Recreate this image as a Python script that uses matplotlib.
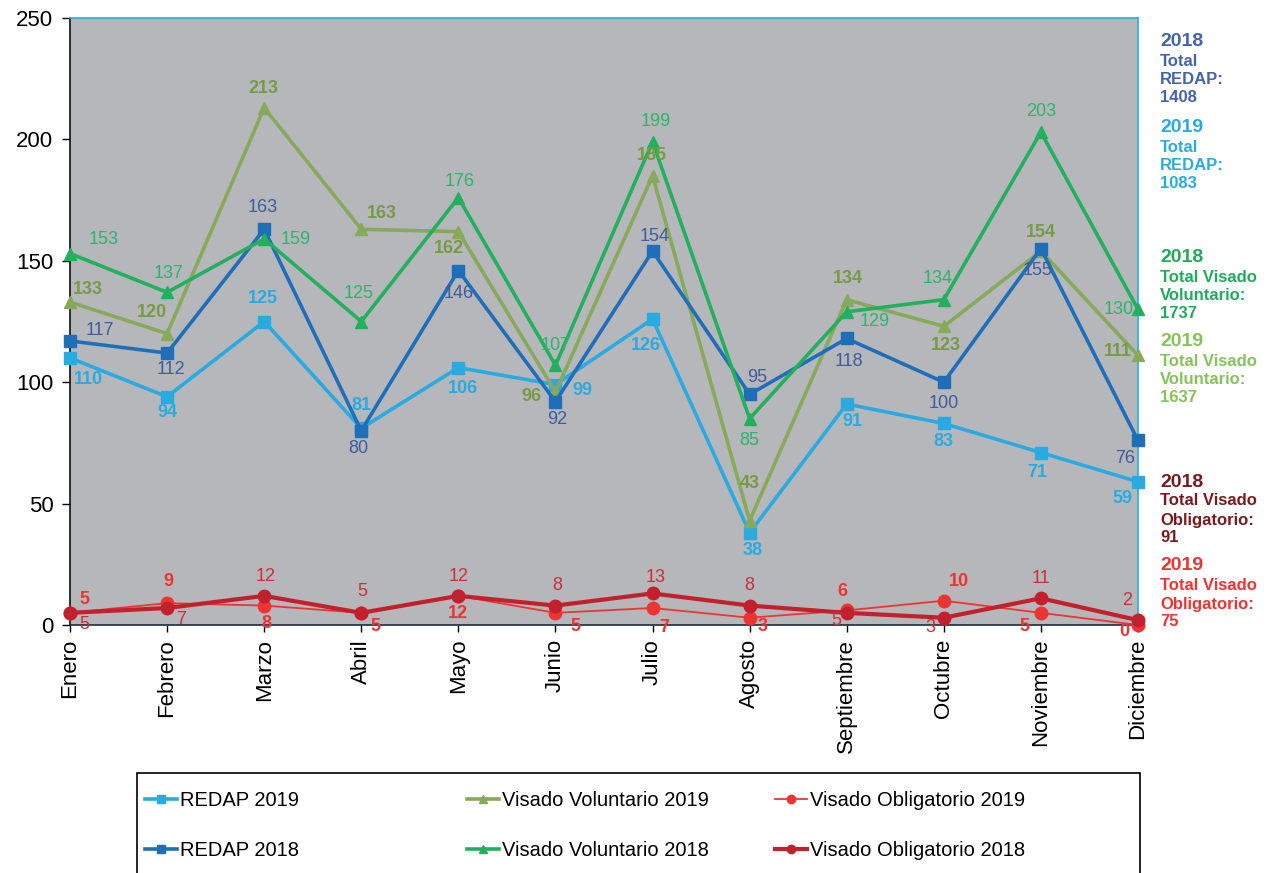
import matplotlib
matplotlib.use("Agg")
import matplotlib.pyplot as plt
from matplotlib.lines import Line2D
from matplotlib.patches import Rectangle

plt.rcParams['font.family'] = ['Liberation Sans', 'DejaVu Sans']

# ---------------- data ----------------
months = ["Enero", "Febrero", "Marzo", "Abril", "Mayo", "Junio", "Julio",
          "Agosto", "Septiembre", "Octubre", "Noviembre", "Diciembre"]
redap_2019 = [110, 94, 125, 81, 106, 99, 126, 38, 91, 83, 71, 59]
redap_2018 = [117, 112, 163, 80, 146, 92, 154, 95, 118, 100, 155, 76]
vv_2019 = [133, 120, 213, 163, 162, 96, 185, 43, 134, 123, 154, 111]
vv_2018 = [153, 137, 159, 125, 176, 107, 199, 85, 129, 134, 203, 130]
vo_2019 = [5, 9, 8, 5, 12, 5, 7, 3, 6, 10, 5, 0]
vo_2018 = [5, 7, 12, 5, 12, 8, 13, 8, 5, 3, 11, 2]
yticks = [0, 50, 100, 150, 200, 250]

totals = [
    ("2018", ["Total", "REDAP:", "1408"], "#4563AA", [42, 62, 80, 97]),
    ("2019", ["Total", "REDAP:", "1083"], "#29ABE2", [127, 148, 166, 183]),
    ("2018", ["Total Visado", "Voluntario:", "1737"], "#22AA5A", [258, 277, 296, 314]),
    ("2019", ["Total Visado", "Voluntario:", "1637"], "#86C25A", [342, 361, 380, 398]),
    ("2018", ["Total Visado", "Obligatorio:", "91"], "#7A1A1E", [482, 501, 520, 537]),
    ("2019", ["Total Visado", "Obligatorio:", "75"], "#EE3333", [566, 585, 604, 621]),
]

# label offsets (pixels) - layout only
off_r19 = [(18, -22), (0, -16), (-1, 23), (0, 23), (5, -21), (27, -6), (-7, -26), (3, -18), (6, -17), (0, -18), (-4, -20), (-16, -17)]
off_r18 = [(30, 10), (4, -16), (-1, 22), (-3, -18), (0, -23), (2, -18), (2, 15), (8, 17), (2, -23), (0, -21), (-3, -22), (-13, -18)]
off_v19 = [(18, 13), (-15, 21), (-1, 19), (21, 16), (-9, -17), (-24, -5), (-1, 20), (0, 37), (1, 21), (2, -19), (0, 19), (-20, 4)]
off_v18 = [(34, 14), (1, 19), (32, -1), (-3, 28), (1, 16), (0, 20), (3, 20), (0, -22), (28, -10), (-6, 21), (0, 21), (-19, 0)]
off_o19 = [(14, 13), (1, 22), (2, -18), (14, -14), (0, -18), (20, -14), (12, -19), (13, -9), (-4, 19), (15, 19), (-16, -14), (-14, -7)]
off_o18 = [(14, -12), (14, -11), (1, 19), (1, 21), (0, 19), (2, 20), (3, 16), (0, 20), (-10, -8), (-13, -10), (0, 20), (-11, 20)]

W, H = 1276, 873
fig = plt.figure(figsize=(W / 100, H / 100), dpi=100)
ax = fig.add_axes([70 / W, 1 - 625 / H, (1138 - 70) / W, (625 - 18) / H])
ax.set_facecolor("#B6B7BB")

x = list(range(len(months)))

series = [
    # values, line color, label color, lw, marker, ms, bold, offsets, legend name, z
    (redap_2019, "#29ABE2", "#29ABE2", 2.6, "s", 8, True, off_r19, "REDAP 2019", 3),
    (vv_2019, "#86A95A", "#779A45", 2.6, "^", 9, True, off_v19, "Visado Voluntario 2019", 4),
    (redap_2018, "#1F6EBA", "#3E5C9E", 2.6, "s", 9, False, off_r18, "REDAP 2018", 5),
    (vv_2018, "#22B05E", "#2BB56A", 2.6, "^", 9, False, off_v18, "Visado Voluntario 2018", 6),
    (vo_2019, "#EE3333", "#EE3333", 1.3, "o", 9, True, off_o19, "Visado Obligatorio 2019", 7),
    (vo_2018, "#C2202C", "#C9303A", 3.0, "o", 9, False, off_o18, "Visado Obligatorio 2018", 8),
]

handles = {}
for vals, col, lcol, lw, mk, ms, bold, offs, name, z in series:
    ax.plot(x, vals, color=col, lw=lw, marker=mk, ms=ms, zorder=z, clip_on=False)
    for xi, v, (dx, dy) in zip(x, vals, offs):
        ax.annotate(str(v), (xi, v), xytext=(dx, dy), textcoords="offset pixels",
                    ha="center", va="center", fontsize=13, color=lcol,
                    fontweight="bold" if bold else "normal", zorder=20,
                    annotation_clip=False)
    handles[name] = Line2D([], [], color=col, lw=lw, marker=mk, ms=6)

ax.set_xlim(0, 11)
ax.set_ylim(0, 250)
ax.set_yticks(yticks)
ax.set_yticklabels([str(t) for t in yticks], fontsize=16)
ax.set_xticks(x)
ax.set_xticklabels(months, rotation=90, fontsize=16, ha="center", va="top")
ax.tick_params(axis="y", direction="out", length=6, width=1, pad=6)
ax.tick_params(axis="x", direction="out", length=5, width=1, pad=5)

ax.spines["top"].set_color("#29ABE2")
ax.spines["right"].set_color("#29ABE2")
ax.spines["left"].set_color("#111111")
ax.spines["bottom"].set_color("#1E2E3A")
for s in ax.spines.values():
    s.set_linewidth(1.2)

# right-side totals
for year, lines, col, ys in totals:
    fig.text(1160 / W, 1 - ys[0] / H, year, color=col, fontsize=14,
             fontweight="bold", ha="left", va="center")
    for t, yy in zip(lines, ys[1:]):
        fig.text(1160 / W, 1 - yy / H, t, color=col, fontsize=12,
                 fontweight="bold", ha="left", va="center")

# legend box
fig.patches.append(Rectangle((137 / W, -0.05), (1140 - 137) / W, 0.05 + 1 - 773 / H,
                             transform=fig.transFigure, fill=False,
                             edgecolor="black", lw=1.2, clip_on=False))

cols = [(145, ["REDAP 2019", "REDAP 2018"]),
        (467, ["Visado Voluntario 2019", "Visado Voluntario 2018"]),
        (775, ["Visado Obligatorio 2019", "Visado Obligatorio 2018"])]
for cx, names in cols:
    fig.legend([handles[n] for n in names], names, loc="upper left",
               bbox_to_anchor=(cx / W, 1 - 791 / H), frameon=False,
               fontsize=14.5, handlelength=1.6, handletextpad=0.15,
               labelspacing=1.55, borderpad=0, borderaxespad=0)

fig.savefig("out.png", dpi=100)
